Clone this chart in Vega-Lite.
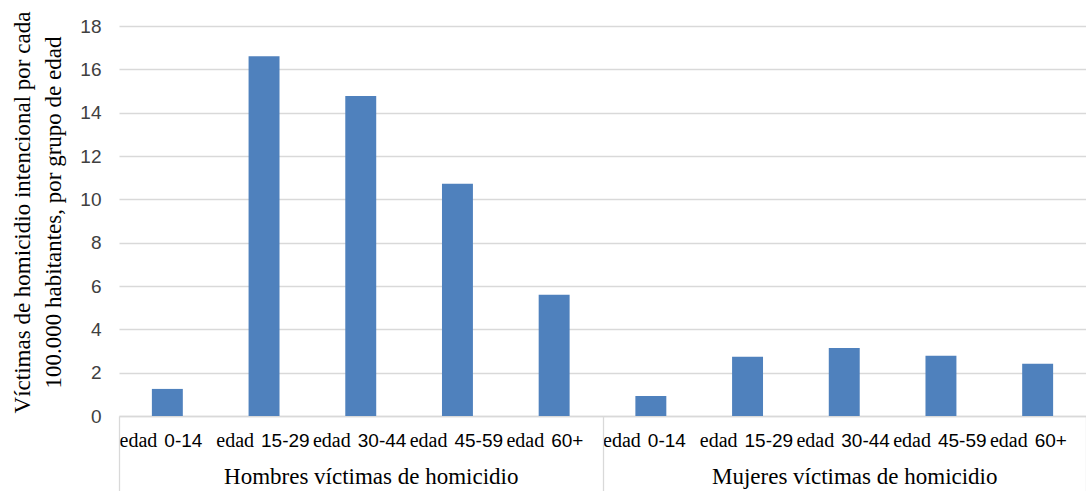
{
  "$schema": "https://vega.github.io/schema/vega-lite/v6.json",
  "width": 967,
  "height": 390,
  "autosize": {"type": "none"},
  "padding": {"left": 119, "top": 26, "right": 0, "bottom": 75},
  "background": "white",
  "config": {"view": {"stroke": null}},
  "data": {
    "values": [
      {"grupo": "Hombres víctimas de homicidio", "clave": "H|0-14", "valor": 1.25},
      {"grupo": "Hombres víctimas de homicidio", "clave": "H|15-29", "valor": 16.6},
      {"grupo": "Hombres víctimas de homicidio", "clave": "H|30-44", "valor": 14.77},
      {"grupo": "Hombres víctimas de homicidio", "clave": "H|45-59", "valor": 10.72},
      {"grupo": "Hombres víctimas de homicidio", "clave": "H|60+", "valor": 5.6},
      {"grupo": "Mujeres víctimas de homicidio", "clave": "M|0-14", "valor": 0.92},
      {"grupo": "Mujeres víctimas de homicidio", "clave": "M|15-29", "valor": 2.73},
      {"grupo": "Mujeres víctimas de homicidio", "clave": "M|30-44", "valor": 3.14},
      {"grupo": "Mujeres víctimas de homicidio", "clave": "M|45-59", "valor": 2.78},
      {"grupo": "Mujeres víctimas de homicidio", "clave": "M|60+", "valor": 2.41}
    ]
  },
  "encoding": {
    "y": {
      "field": "valor",
      "type": "quantitative",
      "scale": {"domain": [0, 18], "nice": false},
      "axis": {
        "values": [0, 2, 4, 6, 8, 10, 12, 14, 16, 18],
        "title": ["Víctimas de homicidio intencional por cada", "100.000 habitantes, por grupo de edad"],
        "titleFont": "Liberation Serif",
        "titleFontSize": 23,
        "titleFontWeight": "normal",
        "titleColor": "#000000",
        "titleLineHeight": 31,
        "titlePadding": 14,
        "titleY": 186,
        "labelFont": "Liberation Sans",
        "labelFontSize": 19,
        "labelColor": "#404040",
        "labelPadding": 18,
        "ticks": false,
        "domain": false,
        "gridColor": "#d9d9d9",
        "gridWidth": 1.3
      }
    }
  },
  "layer": [
    {
      "mark": {"type": "bar", "color": "#4f81bd"},
      "encoding": {
        "x": {
          "field": "clave",
          "type": "nominal",
          "sort": null,
          "scale": {"paddingInner": 0.68, "paddingOuter": 0.34},
          "axis": {
            "orient": "bottom",
            "title": null,
            "labelExpr": "'edad'",
            "labelAngle": 0,
            "labelAlign": "right",
            "labelBaseline": "middle",
            "labelOffset": -10,
            "labelPadding": 24,
            "labelLimit": 0,
            "labelFont": "Liberation Serif",
            "labelFontSize": 20,
            "labelColor": "#000000",
            "ticks": false,
            "domainColor": "#d9d9d9",
            "domainWidth": 1.3
          }
        }
      }
    },
    {
      "mark": {"type": "bar", "opacity": 0},
      "encoding": {
        "x": {
          "field": "clave",
          "type": "nominal",
          "sort": null,
          "scale": {"paddingInner": 0.68, "paddingOuter": 0.34},
          "axis": {
            "orient": "bottom",
            "title": null,
            "labelExpr": "split(datum.label, '|')[1]",
            "labelAngle": 0,
            "labelAlign": "left",
            "labelBaseline": "middle",
            "labelOffset": -3,
            "labelPadding": 24,
            "labelLimit": 0,
            "labelFont": "Liberation Sans",
            "labelFontSize": 19,
            "labelColor": "#000000",
            "ticks": false,
            "domain": false
          }
        }
      }
    },
    {
      "mark": {"type": "bar", "opacity": 0},
      "encoding": {
        "x": {
          "field": "grupo",
          "type": "nominal",
          "sort": null,
          "scale": {"paddingInner": 0, "paddingOuter": 0},
          "axis": {
            "orient": "bottom",
            "title": null,
            "labelAngle": 0,
            "labelAlign": "center",
            "labelBaseline": "middle",
            "labelOffset": 10,
            "labelPadding": -15,
            "labelLimit": 0,
            "labelFont": "Liberation Serif",
            "labelFontSize": 23,
            "labelColor": "#000000",
            "tickBand": "extent",
            "ticks": true,
            "tickSize": 75,
            "tickColor": "#d9d9d9",
            "tickWidth": 1.3,
            "domain": false
          }
        }
      }
    }
  ],
  "resolve": {"scale": {"x": "independent"}}
}
